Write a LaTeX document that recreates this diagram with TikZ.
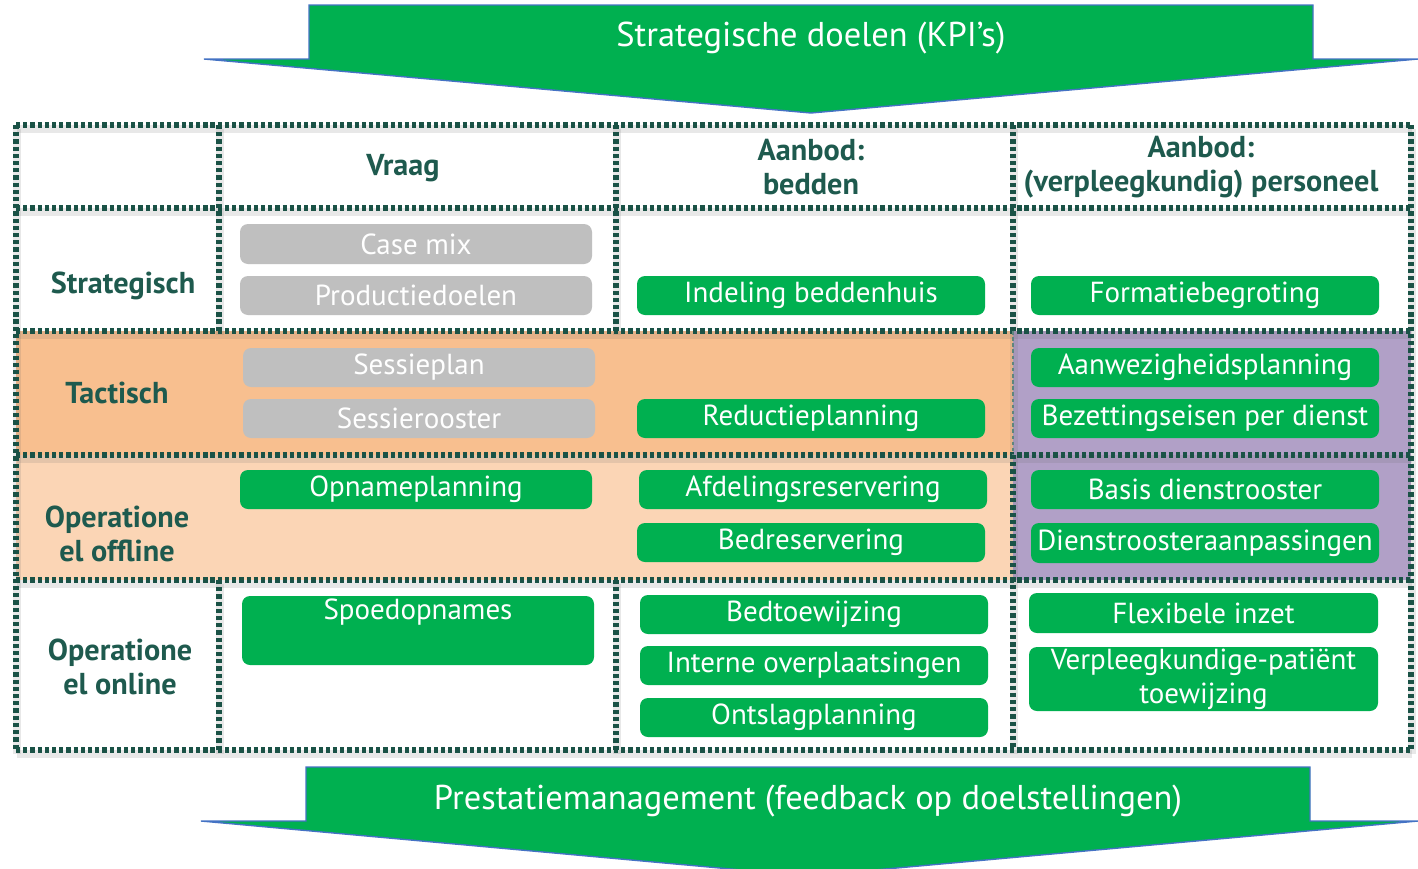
\documentclass[tikz,border=0pt]{standalone}
\usepackage{fontspec}
\setmainfont{PT Sans}
\definecolor{kgreen}{HTML}{00B050}
\definecolor{kgray}{HTML}{BFBFBF}
\definecolor{kteal}{HTML}{1A5246}
\definecolor{korange}{HTML}{F8BF8F}
\definecolor{kpeach}{HTML}{FBD5B5}
\definecolor{kpurple}{HTML}{B1A0C7}
\definecolor{kblue}{HTML}{4472C4}
\definecolor{khead}{HTML}{1E5A4E}
\tikzset{
  px/.style={x=0.02cm,y=-0.02cm},
  gridline/.style={draw=kteal,line width=2.9pt,dash pattern=on 2.4pt off 1.7pt},
  gridshadow/.style={draw=black!60,opacity=0.15,line width=4pt},
  abox/.style={rounded corners=0.16cm,fill=kgreen,text=white,inner sep=0pt,
    font=\fontsize{16.5}{19.5}\selectfont,align=center},
  gbox/.style={abox,fill=kgray},
  hlabel/.style={text=khead,font=\fontsize{17.2}{19.5}\selectfont\bfseries,align=center},
  bigarrow/.style={fill=kgreen,draw=kblue,line width=0.8pt,line join=miter},
  arrowtext/.style={text=white,font=\fontsize{19.6}{23}\selectfont}
}
\newcommand\bx[6]{\node[#1,minimum width=#4*0.02cm,minimum height=#5*0.02cm] (#2) at (#3) {#6};}
\begin{document}
\begin{tikzpicture}[px]
\useasboundingbox (0,0) rectangle (1418,869);
\fill[white] (0,0) rectangle (1418,869);
% top arrow
\draw[bigarrow] (309,5) -- (1313,5) -- (1313,59) -- (1418,59) -- (811,113) -- (204,59) -- (309,59) -- cycle;
\node[arrowtext] (top) at (811,38) {Strategische doelen (KPI’s)};
% bottom arrow
\draw[bigarrow] (306,767) -- (1310,767) -- (1310,821) -- (1418,821) -- (808,876) -- (201,821) -- (306,821) -- cycle;
\node[arrowtext] (bottom) at (808,801) {Prestatiemanagement (feedback op doelstellingen)};
% fills
\fill[korange] (16,331) rectangle (1013,455);
\fill[kpeach] (16,455) rectangle (1013,580);
\fill[kpurple] (1013,331) rectangle (1411,580);
% grid shadows
\begin{scope}[shift={(1,4)}]
\foreach \y in {125,208,331,455,580,750} \draw[gridshadow] (16,\y) -- (1411,\y);
\draw[gridshadow] (16,125) -- (16,750);
\draw[gridshadow] (1411,125) -- (1411,750);
\draw[gridshadow] (1013,125) -- (1013,750);
\foreach \x in {219,616} {\draw[gridshadow] (\x,125) -- (\x,331); \draw[gridshadow] (\x,580) -- (\x,750);}
\end{scope}
% grid
\foreach \y in {125,208,331,455,580,750} \draw[gridline] (16,\y) -- (1411,\y);
\draw[gridline] (16,125) -- (16,750);
\draw[gridline] (1411,125) -- (1411,750);
\draw[gridline] (1013,125) -- (1013,331);
\draw[kteal!70,line width=1pt,dash pattern=on 2pt off 1.5pt] (1013,331) -- (1013,455);
\draw[gridline] (1013,455) -- (1013,750);
\foreach \x in {219,616} {\draw[gridline] (\x,125) -- (\x,331); \draw[gridline] (\x,580) -- (\x,750);}
% headers
\node[hlabel] (hvraag) at (403,168) {Vraag};
\node[hlabel] (hbed) at (811,167) {Aanbod:\\bedden};
\node[hlabel] (hpers) at (1201,167) {Aanbod:\\(verpleegkundig) personeel};
\node[hlabel] (rstrat) at (123,286) {Strategisch};
\node[hlabel] (rtact) at (117,393) {Tactisch};
\node[hlabel] (roff) at (117,534) {Operatione\\el offline};
\node[hlabel] (ron) at (120,667) {Operatione\\el online};
% column Vraag
\bx{gbox}{casemix}{416,244}{352}{40}{Case mix}
\bx{gbox}{prod}{416,295.5}{352}{39}{Productiedoelen}
\bx{gbox}{sessieplan}{419,367.5}{352}{39}{Sessieplan}
\bx{gbox}{sessierooster}{419,418.5}{352}{39}{Sessierooster}
\bx{abox}{opname}{416,489.5}{352}{39}{Opnameplanning}
\bx{abox}{spoed}{418,630.5}{352}{69}{}
\node[text=white,font=\fontsize{16.5}{19.5}\selectfont] (spoedtxt) at (418,612) {Spoedopnames};
% column bedden
\bx{abox}{indeling}{811,295.5}{348}{39}{Indeling beddenhuis}
\bx{abox}{reductie}{811,418.5}{348}{39}{Reductieplanning}
\bx{abox}{afdeling}{813,489.5}{348}{39}{Afdelingsreservering}
\bx{abox}{bedres}{811,542.5}{348}{39}{Bedreservering}
\bx{abox}{bedtoew}{814,614.5}{348}{39}{Bedtoewijzing}
\bx{abox}{interne}{814,665.5}{348}{39}{Interne overplaatsingen}
\bx{abox}{ontslag}{814,717.5}{348}{39}{Ontslagplanning}
% column personeel
\bx{abox}{formatie}{1205,295.5}{348}{39}{Formatiebegroting}
\bx{abox}{aanwez}{1205,367.5}{348}{39}{Aanwezigheidsplanning}
\bx{abox}{bezet}{1205,418.5}{348}{39}{Bezettingseisen per dienst}
\bx{abox}{basis}{1205,489.5}{348}{39}{Basis dienstrooster}
\bx{abox}{aanpas}{1205,543}{348}{40}{Dienstroosteraanpassingen}
\bx{abox}{flex}{1203.5,613}{349}{40}{Flexibele inzet}
\bx{abox}{verpl}{1203.5,679}{349}{64}{Verpleegkundige-patiënt\\toewijzing}
\end{tikzpicture}
\end{document}
